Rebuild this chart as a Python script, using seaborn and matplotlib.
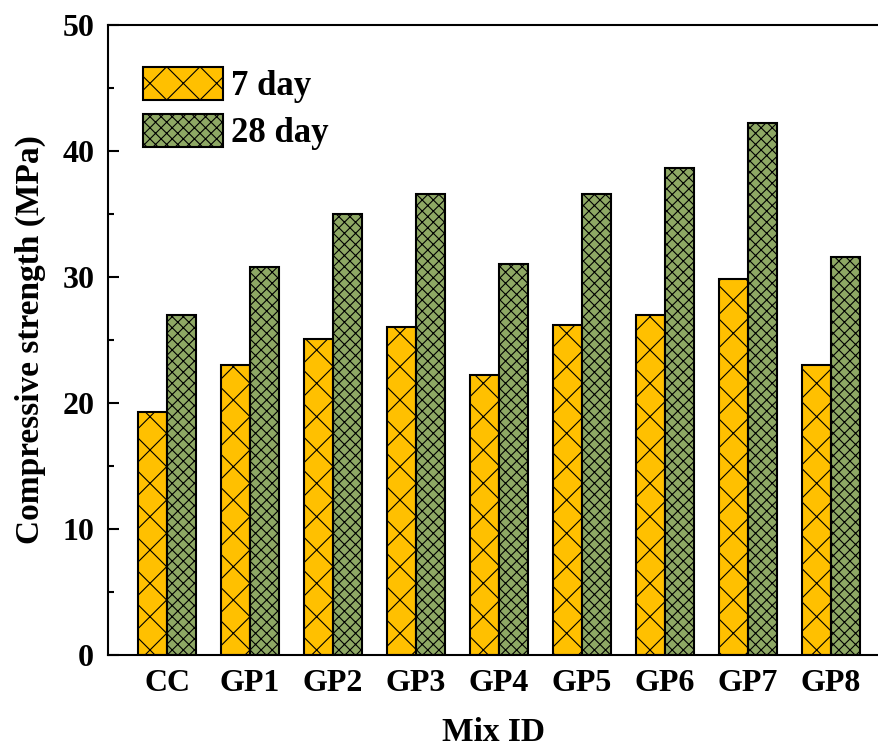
import matplotlib
matplotlib.use('Agg')
import matplotlib.pyplot as plt
from matplotlib.patches import Patch
from matplotlib.ticker import MultipleLocator
import seaborn as sns
import pandas as pd

# values
mixes = ['CC', 'GP1', 'GP2', 'GP3', 'GP4', 'GP5', 'GP6', 'GP7', 'GP8']
day7 = [19.3, 23.0, 25.1, 26.0, 22.2, 26.2, 27.0, 29.8, 23.0]
day28 = [27.0, 30.8, 35.0, 36.6, 31.0, 36.6, 38.6, 42.2, 31.6]
ages = ['7 day', '28 day']

colors = ['#FFC000', '#8EA864']
hatches = ['x', 'xxx']

df = pd.DataFrame({
    'Mix ID': mixes * 2,
    'strength': day7 + day28,
    'age': [ages[0]] * len(mixes) + [ages[1]] * len(mixes),
})

sns.set_style('ticks')
plt.rcParams['font.family'] = ['Liberation Serif', 'DejaVu Serif']
plt.rcParams['font.weight'] = 'bold'
plt.rcParams['hatch.linewidth'] = 0.8
for k in ['text.color', 'axes.labelcolor', 'xtick.color', 'ytick.color']:
    plt.rcParams[k] = 'black'

fig = plt.figure(figsize=(8.79, 7.51), dpi=100)
ax = fig.add_axes([0.123, 0.128, 0.877, 0.839])

sns.barplot(data=df, x='Mix ID', y='strength', hue='age', order=mixes,
            hue_order=ages, palette=colors, saturation=1, width=0.7, gap=0,
            edgecolor='black', linewidth=1.5, legend=False, ax=ax)

n = len(mixes)
for i, bar in enumerate(ax.patches):
    bar.set_hatch(hatches[i // n])

ax.set_ylim(0, 50)
ax.set_xlim(-0.71, 8.58)
ax.yaxis.set_major_locator(MultipleLocator(10))
ax.yaxis.set_minor_locator(MultipleLocator(5))
ax.tick_params(axis='y', which='major', direction='in', length=8, width=1.5,
               pad=10, labelsize=23)
ax.tick_params(axis='y', which='minor', direction='in', length=4.5, width=1.5)
ax.tick_params(axis='x', length=0, pad=10, labelsize=23)
for lab in ax.get_xticklabels() + ax.get_yticklabels():
    lab.set_fontweight('bold')

for side in ['left', 'bottom', 'top']:
    ax.spines[side].set_linewidth(1.5)
    ax.spines[side].set_color('black')
ax.spines['right'].set_visible(False)

ax.set_ylabel('Compressive strength (MPa)', fontsize=24, fontweight='bold', labelpad=12)
ax.set_xlabel('Mix ID', fontsize=24, fontweight='bold', labelpad=14)

handles = [Patch(facecolor=c, edgecolor='black', hatch=h, linewidth=1.5, label=a)
           for c, h, a in zip(colors, hatches, ages)]
ax.legend(handles=handles, loc='upper left', bbox_to_anchor=(0.045, 0.933),
          frameon=False, handlelength=2.3, handleheight=1.1,
          handletextpad=0.25, labelspacing=0.3, borderpad=0, borderaxespad=0,
          prop={'weight': 'bold', 'size': 25})

fig.savefig('out.png', dpi=100)
